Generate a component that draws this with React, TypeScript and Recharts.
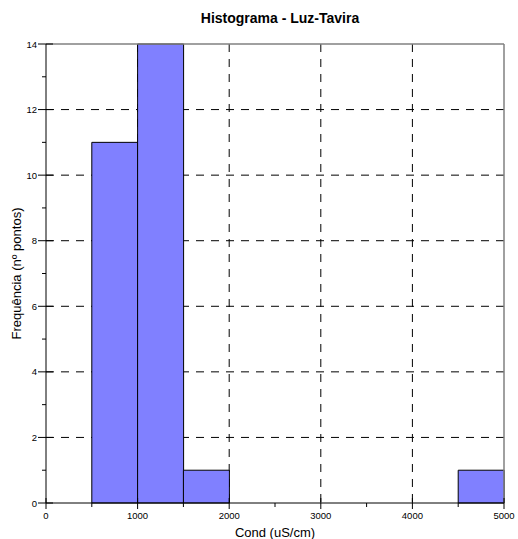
import { BarChart, Bar, XAxis, YAxis, CartesianGrid, ReferenceLine } from 'recharts'

// histogram bins (uS/cm), centre of each 500-wide class
const binCenters = [250, 750, 1250, 1750, 2250, 2750, 3250, 3750, 4250, 4750]
const counts = [0, 11, 14, 1, 0, 0, 0, 0, 0, 1]

const xTicks = [0, 500, 1000, 1500, 2000, 2500, 3000, 3500, 4000, 4500, 5000]
const yTicks = [0, 1, 2, 3, 4, 5, 6, 7, 8, 9, 10, 11, 12, 13, 14]
const gridX = [1000, 2000, 3000, 4000]
const gridY = [2, 4, 6, 8, 10, 12]

const data = binCenters.map((center, i) => ({ center, count: counts[i] }))

const FONT = '"Liberation Sans", Arial, sans-serif'

function XTick({ x, y, payload }: any) {
  const v = payload.value
  if (v % 1000 !== 0) {
    return <line x1={x} y1={y} x2={x} y2={y + 4} stroke="#000" />
  }
  return (
    <g>
      <line x1={x} y1={y - 5} x2={x} y2={y + 6} stroke="#000" />
      <text x={x} y={y + 16} textAnchor="middle" fontSize={9.5} fontFamily={FONT} fill="#000">
        {v}
      </text>
    </g>
  )
}

function YTick({ x, y, payload }: any) {
  const v = payload.value
  if (v % 2 !== 0) {
    return <line x1={x - 4} y1={y} x2={x} y2={y} stroke="#000" />
  }
  return (
    <g>
      <line x1={x - 8} y1={y} x2={x + 7} y2={y} stroke="#000" />
      <text x={x - 9} y={y + 3.5} textAnchor="end" fontSize={9.5} fontFamily={FONT} fill="#000">
        {v}
      </text>
    </g>
  )
}

export default function App() {
  return (
    <div style={{ position: 'absolute', left: 0, top: 0, width: 518, height: 539, background: '#fff' }}>
      <div
        style={{
          position: 'absolute',
          left: 0,
          top: 10,
          width: 560,
          textAlign: 'center',
          fontFamily: FONT,
          fontWeight: 'bold',
          fontSize: 14,
          lineHeight: '16px',
          color: '#000'
        }}
      >
        Histograma - Luz-Tavira
      </div>
      <BarChart
        width={518}
        height={539}
        data={data}
        barCategoryGap={0}
        margin={{ top: 44, right: 14, bottom: 0, left: 0 }}
      >
        <CartesianGrid
          stroke="#000"
          strokeDasharray="8 7"
          horizontalValues={gridY}
          verticalValues={gridX}
        />
        <XAxis
          type="number"
          dataKey="center"
          domain={[0, 5000]}
          ticks={xTicks}
          interval={0}
          height={36}
          tickSize={0}
          tickMargin={0}
          tickLine={false}
          tick={<XTick />}
          axisLine={{ stroke: '#000' }}
          label={{ value: 'Cond (uS/cm)', position: 'insideBottom', offset: 2, fontSize: 13, fill: '#000', fontFamily: FONT }}
        />
        <YAxis
          type="number"
          domain={[0, 14]}
          ticks={yTicks}
          interval={0}
          width={46}
          tickSize={0}
          tickMargin={0}
          tickLine={false}
          tick={<YTick />}
          axisLine={{ stroke: '#000' }}
          label={{
            value: 'Frequência (nº pontos)',
            angle: -90,
            position: 'insideLeft',
            offset: 16,
            fontSize: 13,
            fill: '#000',
            fontFamily: FONT,
            style: { textAnchor: 'middle' }
          }}
        />
        <ReferenceLine y={14} stroke="#808080" strokeWidth={1.5} />
        <ReferenceLine x={5000} stroke="#808080" strokeWidth={1.5} />
        <Bar dataKey="count" fill="#8080FF" stroke="#000" strokeWidth={1} isAnimationActive={false} />
      </BarChart>
    </div>
  )
}
